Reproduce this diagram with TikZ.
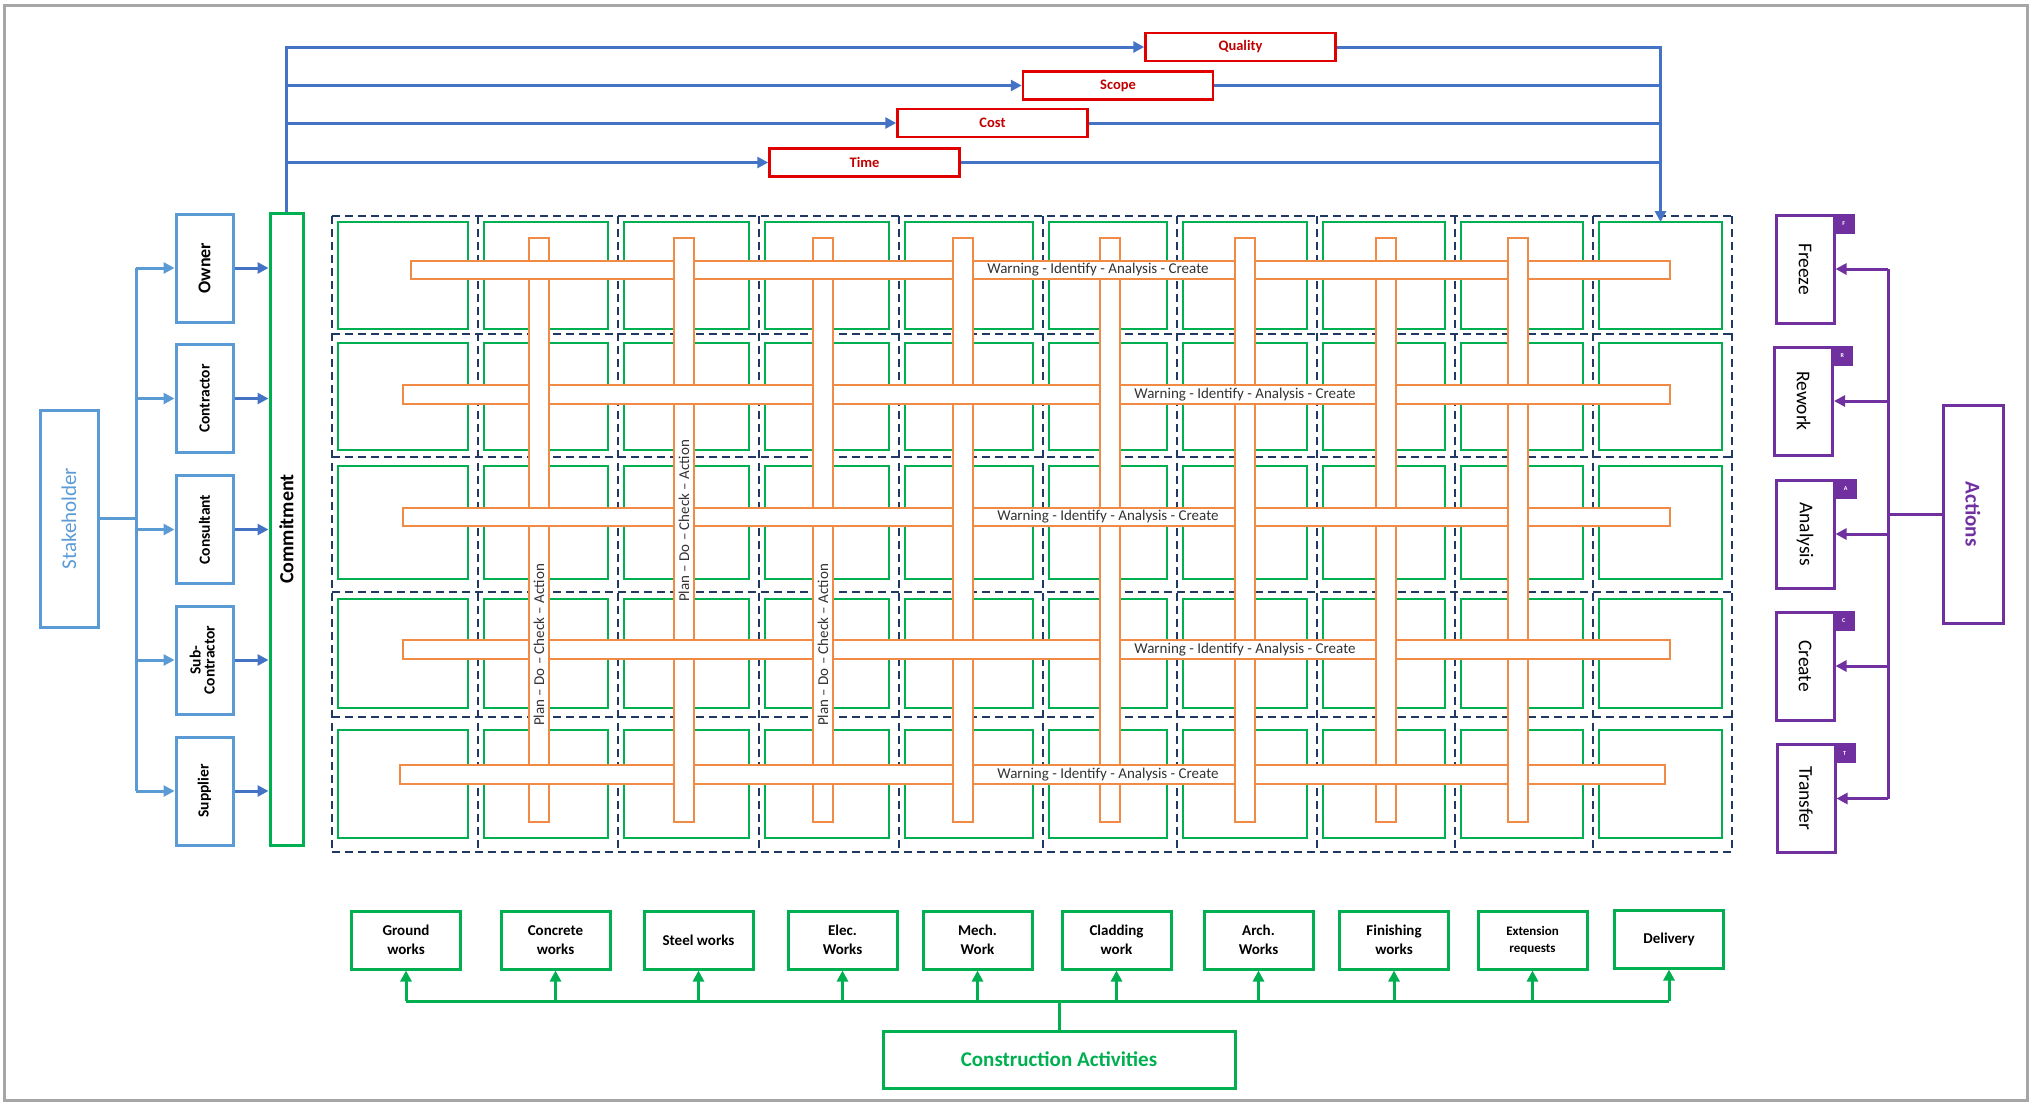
\documentclass[tikz,border=0pt]{standalone}
\usepackage{fontspec}
\usepackage{graphicx}
\setmainfont{Carlito}
\usetikzlibrary{arrows.meta,calc}
\definecolor{sblue}{HTML}{5B9BD5}
\definecolor{dblue}{HTML}{4472C4}
\definecolor{cgreen}{HTML}{00B050}
\definecolor{navy}{HTML}{1F3864}
\definecolor{orng}{HTML}{F08A45}
\definecolor{bred}{HTML}{E00000}
\definecolor{tred}{HTML}{C00000}
\definecolor{purp}{HTML}{7030A0}
\definecolor{framegray}{HTML}{A6A6A6}
\newcommand\fsz[2]{\fontsize{#1pt}{#2pt}\selectfont}
\begin{document}
\begin{tikzpicture}[x=1pt,y=-1pt,
  arr/.style={-{Triangle[length=11pt,width=11pt]}},
  sline/.style={draw=sblue,line width=3pt},
  dline/.style={draw=dblue,line width=3pt},
  bline/.style={draw=dblue,line width=3pt},
  gline/.style={draw=cgreen,line width=3pt},
  pline/.style={draw=purp,line width=3pt},
  oline/.style={draw=orng,line width=2pt},
  stk/.style={draw=sblue,line width=3pt,minimum width=58pt,minimum height=217pt,inner sep=0pt,text=sblue,font={\fsz{21}{25}}},
  sbox/.style={draw=sblue,line width=3pt,minimum width=57pt,minimum height=108pt,inner sep=0pt,font={\fsz{15.5}{16}\bfseries}},
  cbox/.style={draw=cgreen,line width=3pt,minimum width=33pt,minimum height=632pt,inner sep=0pt,font={\fsz{20}{24}\bfseries}},
  rbox/.style={draw=bred,line width=2.5pt,minimum width=190pt,minimum height=28pt,inner sep=0pt,text=tred,font={\fsz{14.5}{16}\bfseries}},
  gbox/.style={draw=cgreen,line width=2.5pt,inner sep=0pt,outer sep=0pt},
  dgrid/.style={draw=navy,line width=2.5pt,dash pattern=on 8pt off 5pt},
  hstrip/.style={draw=orng,fill=white,line width=2pt,inner sep=0pt,outer sep=0pt,minimum height=18.5pt},
  vstrip/.style={draw=orng,fill=white,line width=2pt,inner sep=0pt,outer sep=0pt,minimum width=19.5pt,minimum height=584pt},
  htext/.style={inner sep=0pt,text=black!80,font={\fsz{15}{17}}},
  abox/.style={draw=purp,line width=3pt,minimum width=58pt,minimum height=108pt,inner sep=0pt,font={\fsz{19.5}{22}}},
  actbox/.style={draw=purp,line width=3pt,minimum width=60pt,minimum height=218pt,inner sep=0pt,text=purp,font={\fsz{21}{24}\bfseries}},
  tabst/.style={fill=purp,minimum width=22pt,minimum height=20pt,inner sep=0pt,text=white,font={\fsz{6}{7}\bfseries},anchor=north west},
  wbox/.style={draw=cgreen,line width=3pt,minimum width=109pt,minimum height=58pt,inner sep=1pt,align=center,font={\fsz{15}{19}\bfseries}},
  cabox/.style={draw=cgreen,line width=3pt,minimum width=352pt,minimum height=57pt,inner sep=0pt,text=cgreen,font={\fsz{21}{24}\bfseries}}
]
\useasboundingbox (0,0) rectangle (2037,1104);
\draw[framegray,line width=3pt] (4.5,5) rectangle (2027,1100);

% ---------- grid of cells ----------
\foreach \xa/\xb [count=\j] in {332/478,478/618,618/759,759/899,899/1043,1043/1177,1177/1317,1317/1455,1455/1593,1593/1732} {
  \foreach \ya/\yb [count=\i] in {222/329,343/450,466/579,599/708,730/838} {
    \node[gbox,minimum width={(\xb-\xa-16)*1pt},minimum height={(\yb-\ya)*1pt}] (g-\i-\j) at ({(\xa+\xb)/2-2},{(\ya+\yb)/2}) {};
  }
}
\foreach \x in {332,478,618,759,899,1043,1177,1317,1455,1593,1732}
  \draw[dgrid] (\x,216) -- (\x,852);
\foreach \y in {216,334,457,592,717,852}
  \draw[dgrid] (332,\y) -- (1732,\y);

% ---------- woven strips ----------
\node[hstrip,minimum width=1259pt] (h1) at (1040.5,270) {};
\node[hstrip,minimum width=1267pt] (h2) at (1036.5,394.5) {};
\node[hstrip,minimum width=1267pt] (h3) at (1036.5,517) {};
\node[hstrip,minimum width=1267pt] (h4) at (1036.5,649.5) {};
\node[hstrip,minimum width=1265pt] (h5) at (1032.5,774.5) {};
\foreach \x [count=\j] in {539,684,823,963,1110,1245,1386,1518}
  \node[vstrip] (v\j) at (\x,530) {};
\foreach \i in {1,...,5} {
  \foreach \j in {1,...,8} {
    \pgfmathtruncatemacro\wpar{mod(\i+\j,2)}
    \ifnum\wpar=0
      \fill[white] ($(v\j.west|-h\i.north)+(-2,1.2)$) rectangle ($(v\j.east|-h\i.south)+(2,-1.2)$);
      \draw[oline] ($(v\j.west|-h\i.north)+(-2,0)$) -- ($(v\j.east|-h\i.north)+(2,0)$);
      \draw[oline] ($(v\j.west|-h\i.south)+(-2,0)$) -- ($(v\j.east|-h\i.south)+(2,0)$);
    \fi
  }
}
\node[htext] (w1) at (1098,270) {Warning - Identify - Analysis - Create};
\node[htext] (w2) at (1245,394.5) {Warning - Identify - Analysis - Create};
\node[htext] (w3) at (1108,517) {Warning - Identify - Analysis - Create};
\node[htext] (w4) at (1245,649.5) {Warning - Identify - Analysis - Create};
\node[htext] (w5) at (1108,774.5) {Warning - Identify - Analysis - Create};
\node[htext,rotate=90] (p1) at (539,645) {Plan – Do – Check – Action};
\node[htext,rotate=90] (p2) at (684,521) {Plan – Do – Check – Action};
\node[htext,rotate=90] (p3) at (823,645) {Plan – Do – Check – Action};

% ---------- stakeholders ----------
\node[stk] (stake) at (69,518.5) {\rotatebox{90}{Stakeholder}};
\node[sbox] (owner) at (204.5,268) {\rotatebox{90}{\fsz{18}{20}Owner}};
\node[sbox] (contr) at (204.5,398.5) {\rotatebox{90}{Contractor}};
\node[sbox] (consu) at (204.5,529.5) {\rotatebox{90}{Consultant}};
\node[sbox] (subc) at (204.5,660) {\rotatebox{90}{\begin{tabular}{@{}c@{}}Sub-\\[-2pt]Contractor\end{tabular}}};
\node[sbox] (suppl) at (204.5,791) {\rotatebox{90}{Supplier}};
\node[cbox] (commit) at (286.5,529) {\rotatebox{90}{Commitment}};
\coordinate (sbr) at (136,518.5);
\draw[sline] (stake.east) -- (sbr);
\draw[sline] (sbr|-owner.west) -- (sbr|-suppl.west);
\foreach \n in {owner,contr,consu,subc,suppl} {
  \draw[sline,arr] (sbr|-\n.west) -- (\n.west);
  \draw[dline,arr] (\n.east) -- (\n.east-|commit.west);
}

% ---------- quality / scope / cost / time ----------
\node[rbox] (quality) at (1240.5,47) {Quality};
\node[rbox] (scope) at (1118,85.5) {Scope};
\node[rbox] (cost) at (992.5,123) {Cost};
\node[rbox] (time) at (864.5,162.5) {Time};
\draw[bline,arr] (commit.north) |- (quality.west);
\foreach \n in {scope,cost,time}
  \draw[bline,arr] (commit.north|-\n.west) -- (\n.west);
\draw[bline,arr] (quality.east) -| (g-1-10.north);
\foreach \n in {scope,cost,time}
  \draw[bline] (\n.east) -- (\n.east-|g-1-10.north);

% ---------- actions ----------
\node[abox] (freeze) at (1805,269) {\rotatebox{-90}{Freeze}};
\node[abox] (rework) at (1803.5,401) {\rotatebox{-90}{Rework}};
\node[abox] (analy) at (1805,534) {\rotatebox{-90}{Analysis}};
\node[abox] (create) at (1805,666) {\rotatebox{-90}{Create}};
\node[abox] (trans) at (1806,798.5) {\rotatebox{-90}{Transfer}};
\node[tabst] (tf) at ([xshift=-3pt]freeze.north east) {F};
\node[tabst] (tr) at ([xshift=-3pt]rework.north east) {R};
\node[tabst] (ta) at ([xshift=-1pt]analy.north east) {A};
\node[tabst] (tc) at ([xshift=-3pt]create.north east) {C};
\node[tabst] (tt) at ([xshift=-3pt]trans.north east) {T};
\node[actbox] (actions) at (1973,514) {\rotatebox{-90}{Actions}};
\coordinate (abr) at (1888,514);
\draw[pline] (actions.west) -- (abr);
\draw[pline] (abr|-freeze.east) -- (abr|-trans.east);
\foreach \n in {freeze,rework,analy,create,trans}
  \draw[pline,arr] (abr|-\n.east) -- (\n.east);

% ---------- construction activities ----------
\node[wbox] (ground) at (406,940) {Ground\\works};
\node[wbox] (concr) at (555.5,940) {Concrete\\works};
\node[wbox] (steel) at (698.5,940) {Steel works};
\node[wbox] (elec) at (842.5,940) {Elec.\\Works};
\node[wbox] (mech) at (977.5,940) {Mech.\\Work};
\node[wbox] (clad) at (1116.5,940) {Cladding\\work};
\node[wbox] (arch) at (1258.5,940) {Arch.\\Works};
\node[wbox] (finish) at (1394,940) {Finishing\\works};
\node[wbox,font={\fsz{13}{17}\bfseries}] (ext) at (1532.5,940) {Extension\\requests};
\node[wbox] (deliv) at (1669,939) {Delivery};
\node[cabox] (ca) at (1059,1059.5) {Construction Activities};
\coordinate (cabr) at (1059,1001);
\draw[gline] (ca.north) -- (cabr);
\draw[gline] (cabr-|ground.south) -- (cabr-|deliv.south);
\foreach \n in {ground,concr,steel,elec,mech,clad,arch,finish,ext,deliv}
  \draw[gline,arr] (cabr-|\n.south) -- (\n.south);
\end{tikzpicture}
\end{document}
